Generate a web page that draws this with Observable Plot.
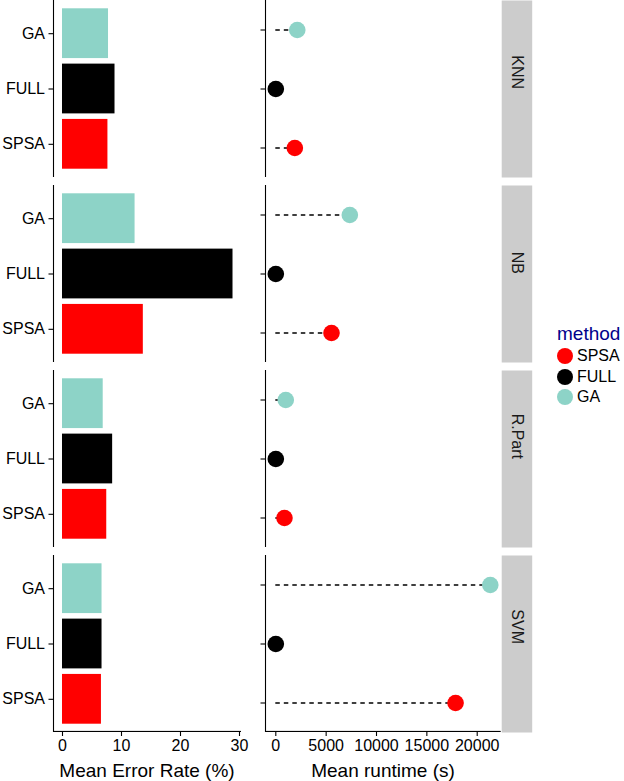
<!DOCTYPE html>
<html>
<head>
<meta charset="utf-8">
<script src="https://cdn.jsdelivr.net/npm/d3@7"></script>
<script src="https://cdn.jsdelivr.net/npm/@observablehq/plot@0.6"></script>
<style>
  body { margin: 0; background: #fff; font-family: "Liberation Sans", Arial, Helvetica, sans-serif; }
  #wrap { position: relative; width: 624px; height: 781px; overflow: hidden; }
  #left { position: absolute; left: 0; top: 0; }
  #right { position: absolute; left: 255px; top: 0; }
  .axtitle { position: absolute; font-size: 19px; line-height: 19px; color: #000; white-space: nowrap; transform: translateX(-50%); }
  #legend { position: absolute; left: 557px; top: 324px; }
  #legend .ltitle { font-size: 19px; line-height: 19px; color: #00008B; margin-bottom: 3px; }
  #legend .item { display: flex; align-items: center; height: 20.5px; }
  #legend .sw { width: 16px; height: 16px; border-radius: 50%; margin-left: 0px; margin-right: 4px; }
  #legend .lab { font-size: 16px; color: #000; }
</style>
</head>
<body>
<div id="wrap">
  <div id="left"></div>
  <div id="right"></div>
  <div class="axtitle" style="left:147px; top:761px;">Mean Error Rate (%)</div>
  <div class="axtitle" style="left:383px; top:761px;">Mean runtime (s)</div>
  <div id="legend"></div>
</div>
<script>
// ---- data ----
const models = ["KNN", "NB", "R.Part", "SVM"];
const methods = ["GA", "FULL", "SPSA"];
const methodColors = ["#8DD3C7", "#000000", "#FF0000"];
const legendOrder = ["SPSA", "FULL", "GA"];

const errorGA   = [7.8, 12.3, 6.9, 6.7];
const errorFULL = [8.9, 28.9, 8.5, 6.7];
const errorSPSA = [7.7, 13.7, 7.5, 6.6];

const runtimeGA   = [2130, 7350, 990, 21300];
const runtimeFULL = [0, 0, 0, 0];
const runtimeSPSA = [1890, 5530, 860, 17850];

const errorTicks = [0, 10, 20, 30];
const runtimeTicks = [0, 5000, 10000, 15000, 20000];

const rows = models.flatMap((m, i) => [
  {model: m, method: "GA", error: errorGA[i], runtime: runtimeGA[i]},
  {model: m, method: "FULL", error: errorFULL[i], runtime: runtimeFULL[i]},
  {model: m, method: "SPSA", error: errorSPSA[i], runtime: runtimeSPSA[i]}
]);

// ---- shared config ----
const H = 781, MB = 49, MT = 0;
const facetBand = 177;
const fyScale = {domain: models, paddingInner: 8 / 185, paddingOuter: 0, round: false, axis: null};
const yScale = {domain: methods, paddingInner: 0.1, paddingOuter: 0.15, round: false};
const colorScale = {domain: methods, range: methodColors};
const font = "Liberation Sans, Arial, Helvetica, sans-serif";

// ---- left: error rate bars ----
const exMin = -1.525, exMax = 30.34;
const left = Plot.plot({
  width: 255, height: H,
  marginLeft: 53, marginRight: 14, marginTop: MT, marginBottom: MB,
  style: {fontFamily: font, background: "transparent", color: "#000"},
  fy: fyScale,
  y: yScale,
  x: {domain: [exMin, exMax]},
  color: colorScale,
  marks: [
    Plot.barX(rows, {fy: "model", y: "method", x1: 0, x2: "error", fill: "method", insetTop: 0, insetBottom: 0}),
    Plot.ruleX([exMin], {x: d => d, stroke: "#000", strokeWidth: 1.1}),
    Plot.rect(["SVM"], {fy: d => d, x1: exMin, x2: exMax, fill: "#000", insetTop: facetBand - 1.1}),
    Plot.axisY({tickSize: 4.5, tickPadding: 4, fontSize: 16, label: null, stroke: "#000", strokeWidth: 1.1, color: "#000"}),
    Plot.axisX({anchor: "bottom", ticks: errorTicks, tickSize: 4, tickPadding: 3, fontSize: 16, label: null, strokeWidth: 1.1})
  ]
});
document.getElementById("left").appendChild(left);

// ---- right: runtime lollipops ----
const rMin = -1023, rMax = 22383;
const rightW = 290, rML = 10, rMR = 44.3;
const panelW = rightW - rML - rMR;
const right = Plot.plot({
  width: rightW, height: H,
  marginLeft: rML, marginRight: rMR, marginTop: MT, marginBottom: MB,
  style: {fontFamily: font, background: "transparent", color: "#000", overflow: "visible"},
  fy: fyScale,
  y: yScale,
  x: {domain: [rMin, rMax]},
  color: colorScale,
  marks: [
    Plot.frame({fill: "#CCCCCC", stroke: null, insetLeft: panelW + 0.5, insetRight: -31}),
    Plot.text(models, {fy: d => d, text: d => d, frameAnchor: "right", dx: 16, rotate: 90, fontSize: 16, fill: "#1a1a1a"}),
    Plot.ruleX([rMin], {x: d => d, stroke: "#000", strokeWidth: 1.1}),
    Plot.rect(["SVM"], {fy: d => d, x1: rMin, x2: rMax, fill: "#000", insetTop: facetBand - 1.1}),
    Plot.ruleY(rows.filter(d => d.runtime > 0), {fy: "model", y: "method", x1: 0, x2: "runtime", stroke: "#000", strokeWidth: 1.4, strokeDasharray: "4.5,4"}),
    Plot.dot(rows, {fy: "model", y: "method", x: "runtime", fill: "method", r: 8.3, stroke: null}),
    Plot.axisY({tickSize: 4.5, tickFormat: () => "", label: null, stroke: "#000", strokeWidth: 1.1}),
    Plot.axisX({anchor: "bottom", ticks: runtimeTicks, tickFormat: d => String(d), tickSize: 4, tickPadding: 3, fontSize: 16, label: null, strokeWidth: 1.1})
  ]
});
document.getElementById("right").appendChild(right);

// ---- legend ----
const lg = document.getElementById("legend");
const t = document.createElement("div");
t.className = "ltitle"; t.textContent = "method";
lg.appendChild(t);
for (const m of legendOrder) {
  const it = document.createElement("div"); it.className = "item";
  const sw = document.createElement("span"); sw.className = "sw";
  sw.style.background = methodColors[methods.indexOf(m)];
  const lab = document.createElement("span"); lab.className = "lab"; lab.textContent = m;
  it.appendChild(sw); it.appendChild(lab); lg.appendChild(it);
}
</script>
</body>
</html>
